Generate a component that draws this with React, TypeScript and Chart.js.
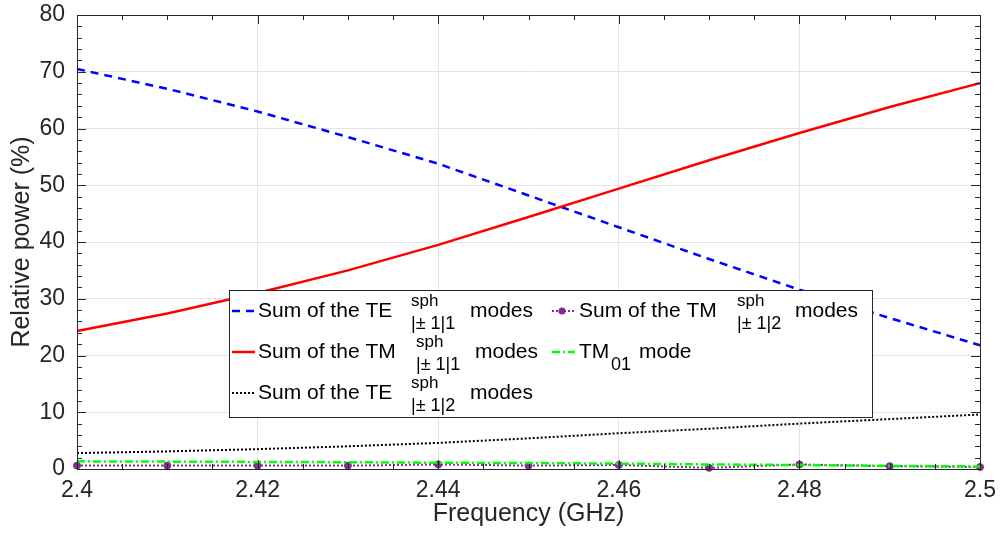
import React, { useEffect, useRef } from 'react';
import { Chart, registerables } from 'chart.js';

Chart.register(...registerables);

// ---------- data ----------
const frequencies = [2.40, 2.41, 2.42, 2.43, 2.44, 2.45, 2.46, 2.47, 2.48, 2.49, 2.50];
const teSph11 = [70.5, 67.0, 63.0, 58.5, 53.8, 48.2, 42.6, 37.0, 31.6, 26.6, 21.8];
const tmSph11 = [24.3, 27.4, 31.0, 35.0, 39.5, 44.4, 49.4, 54.4, 59.2, 63.8, 68.0];
const teSph12 = [2.8, 3.1, 3.5, 4.0, 4.6, 5.4, 6.3, 7.1, 8.0, 8.8, 9.6];
const tmSph12 = [0.6, 0.6, 0.6, 0.6, 0.8, 0.6, 0.7, 0.2, 0.8, 0.5, 0.35];
const tm01 = [1.35, 1.3, 1.25, 1.2, 1.1, 1.05, 0.95, 0.8, 0.7, 0.55, 0.45];

const xMajorTicks = [2.4, 2.42, 2.44, 2.46, 2.48, 2.5];
const yMajorTicks = [0, 10, 20, 30, 40, 50, 60, 70, 80];

const legendLabels = [
  { text: 'Sum of the TE', sup: 'sph', sub: '|\u00b1 1|1', tail: 'modes' },
  { text: 'Sum of the TM', sup: 'sph', sub: '|\u00b1 1|1', tail: 'modes' },
  { text: 'Sum of the TE', sup: 'sph', sub: '|\u00b1 1|2', tail: 'modes' },
  { text: 'Sum of the TM', sup: 'sph', sub: '|\u00b1 1|2', tail: 'modes' },
  { text: 'TM', sup: '', sub: '01', tail: 'mode' },
];

const xTitle = 'Frequency (GHz)';
const yTitle = 'Relative power (%)';

// ---------- styles ----------
const FONT = "'Liberation Sans', Arial, Helvetica, sans-serif";
const AXIS_COLOR = '#262626';
const GRID_COLOR = '#e4e4e4';

// legend layout (pixel positions of each entry's pieces)
const legendBox = { left: 229, top: 290, right: 872, bottom: 417 };
const legendLayout = [
  { sampleX: 232, y: 311, textX: 258, supX: 411, tailX: 470 },
  { sampleX: 232, y: 352, textX: 258, supX: 416, tailX: 475 },
  { sampleX: 232, y: 393, textX: 258, supX: 411, tailX: 470 },
  { sampleX: 552, y: 311, textX: 579, supX: 737, tailX: 795 },
  { sampleX: 552, y: 352, textX: 579, supX: 611, tailX: 639 },
];

const isMajor = (v: number, majors: number[]) => majors.some((m) => Math.abs(m - v) < 1e-6);

const framePlugin = {
  id: 'matlabFrame',
  afterDatasetsDraw(chart: any) {
    const { ctx, chartArea: a, scales } = chart;
    const xs = scales.x;
    const ys = scales.y;
    ctx.save();
    ctx.strokeStyle = AXIS_COLOR;
    ctx.lineWidth = 1;
    ctx.setLineDash([]);
    ctx.beginPath();
    xs.ticks.forEach((t: any) => {
      const px = Math.round(xs.getPixelForValue(t.value)) + 0.5;
      const len = isMajor(t.value, xMajorTicks) ? 9 : 5;
      ctx.moveTo(px, a.bottom);
      ctx.lineTo(px, a.bottom - len);
      ctx.moveTo(px, a.top);
      ctx.lineTo(px, a.top + len);
    });
    ys.ticks.forEach((t: any) => {
      const py = Math.round(ys.getPixelForValue(t.value)) + 0.5;
      const len = isMajor(t.value, yMajorTicks) ? 9 : 5;
      ctx.moveTo(a.left, py);
      ctx.lineTo(a.left + len, py);
      ctx.moveTo(a.right, py);
      ctx.lineTo(a.right - len, py);
    });
    ctx.stroke();
    ctx.strokeRect(Math.round(a.left) + 0.5, Math.round(a.top) + 0.5, Math.round(a.right - a.left), Math.round(a.bottom - a.top));
    ctx.restore();
  },
};

const legendPlugin = {
  id: 'matlabLegend',
  afterDraw(chart: any) {
    const ctx = chart.ctx;
    const b = legendBox;
    ctx.save();
    ctx.fillStyle = '#ffffff';
    ctx.fillRect(b.left, b.top, b.right - b.left, b.bottom - b.top);
    ctx.strokeStyle = AXIS_COLOR;
    ctx.lineWidth = 1;
    ctx.strokeRect(b.left + 0.5, b.top + 0.5, b.right - b.left, b.bottom - b.top);
    legendLabels.forEach((lab, i) => {
      const pos = legendLayout[i];
      const ds = chart.data.datasets[i];
      ctx.save();
      ctx.strokeStyle = ds.borderColor;
      ctx.lineWidth = ds.borderWidth;
      ctx.setLineDash(ds.borderDash || []);
      ctx.beginPath();
      ctx.moveTo(pos.sampleX, pos.y);
      ctx.lineTo(pos.sampleX + 23, pos.y);
      ctx.stroke();
      if (ds.pointRadius > 0) {
        ctx.setLineDash([]);
        ctx.fillStyle = ds.pointBackgroundColor;
        ctx.beginPath();
        ctx.arc(pos.sampleX + 10, pos.y, ds.pointRadius, 0, Math.PI * 2);
        ctx.fill();
      }
      ctx.restore();
      ctx.fillStyle = '#000000';
      ctx.textBaseline = 'middle';
      ctx.textAlign = 'left';
      ctx.font = `21px ${FONT}`;
      ctx.fillText(lab.text, pos.textX, pos.y);
      ctx.font = `17px ${FONT}`;
      if (lab.sup) ctx.fillText(lab.sup, pos.supX, pos.y - 10);
      ctx.font = `18px ${FONT}`;
      ctx.fillText(lab.sub, pos.supX, pos.y + 13);
      ctx.font = `21px ${FONT}`;
      ctx.fillText(lab.tail, pos.tailX, pos.y);
    });
    ctx.restore();
  },
};

const toPoints = (ys: number[]) => frequencies.map((f, i) => ({ x: f, y: ys[i] }));

export default function App() {
  const canvasRef = useRef<HTMLCanvasElement | null>(null);

  useEffect(() => {
    if (!canvasRef.current) return;
    const common = { fill: false, tension: 0, clip: false as any, pointHoverRadius: 0 };
    const chart = new Chart(canvasRef.current, {
      type: 'line',
      data: {
        datasets: [
          {
            ...common,
            label: 'TE11',
            data: toPoints(teSph11),
            borderColor: '#0000ff',
            borderWidth: 2.5,
            borderDash: [8, 6],
            pointRadius: 0,
            order: 4,
          },
          {
            ...common,
            label: 'TM11',
            data: toPoints(tmSph11),
            borderColor: '#ff0000',
            borderWidth: 2.5,
            pointRadius: 0,
            order: 3,
          },
          {
            ...common,
            label: 'TE12',
            data: toPoints(teSph12),
            borderColor: '#000000',
            borderWidth: 2,
            borderDash: [2, 2],
            pointRadius: 0,
            order: 2,
          },
          {
            ...common,
            label: 'TM12',
            data: toPoints(tmSph12),
            borderColor: '#7e2f8e',
            borderWidth: 2,
            borderDash: [2, 2],
            pointRadius: 3.5,
            pointBackgroundColor: '#7e2f8e',
            pointBorderColor: '#7e2f8e',
            pointBorderWidth: 1,
            order: 1,
          },
          {
            ...common,
            label: 'TM01',
            data: toPoints(tm01),
            borderColor: '#00ff00',
            borderWidth: 2.5,
            borderDash: [8, 3, 2, 3],
            pointRadius: 0,
            order: 0,
          },
        ] as any,
      },
      options: {
        animation: false,
        responsive: true,
        maintainAspectRatio: false,
        layout: { padding: { top: 15, right: 20, left: 0, bottom: 0 } },
        plugins: { legend: { display: false }, tooltip: { enabled: false }, title: { display: false } },
        events: [],
        scales: {
          x: {
            type: 'linear',
            min: 2.4,
            max: 2.5,
            afterFit: (s: any) => {
              s.height = 69;
              s.paddingLeft = 0;
              s.paddingRight = 0;
            },
            ticks: {
              stepSize: 0.005,
              autoSkip: false,
              maxRotation: 0,
              padding: 8,
              color: AXIS_COLOR,
              font: { family: FONT, size: 23 },
              callback: (v: any) => (isMajor(Number(v), xMajorTicks) ? String(Number(Number(v).toFixed(2))) : ''),
            },
            grid: {
              drawTicks: false,
              color: (c: any) => (c.tick && isMajor(c.tick.value, xMajorTicks) ? GRID_COLOR : 'rgba(0,0,0,0)'),
              lineWidth: 1,
            },
            border: { display: false },
            title: {
              display: true,
              text: xTitle,
              color: AXIS_COLOR,
              font: { family: FONT, size: 25 },
              padding: { top: 0, bottom: 9 },
            },
          },
          y: {
            type: 'linear',
            min: 0,
            max: 80,
            afterFit: (s: any) => {
              s.width = 77;
              s.paddingTop = 0;
              s.paddingBottom = 0;
            },
            ticks: {
              stepSize: 2,
              autoSkip: false,
              padding: 12,
              color: AXIS_COLOR,
              font: { family: FONT, size: 23 },
              callback: (v: any) => (isMajor(Number(v), yMajorTicks) ? String(Math.round(Number(v))) : ''),
            },
            grid: {
              drawTicks: false,
              color: (c: any) => (c.tick && isMajor(c.tick.value, yMajorTicks) ? GRID_COLOR : 'rgba(0,0,0,0)'),
              lineWidth: 1,
            },
            border: { display: false },
            title: {
              display: true,
              text: yTitle,
              color: AXIS_COLOR,
              font: { family: FONT, size: 25 },
              padding: { top: 7, bottom: 0 },
            },
          },
        },
      } as any,
      plugins: [framePlugin, legendPlugin],
    });
    return () => chart.destroy();
  }, []);

  return (
    <div style={{ position: 'fixed', left: 0, top: 0, width: 1000, height: 538, background: '#ffffff' }}>
      <canvas ref={canvasRef} />
    </div>
  );
}
